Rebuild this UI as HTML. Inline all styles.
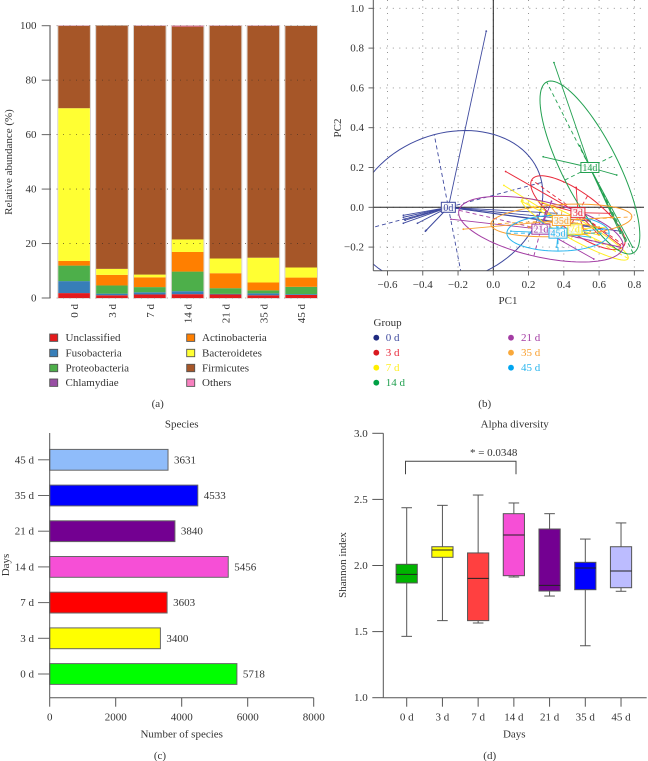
<!DOCTYPE html>
<html lang="en">
<head>
<meta charset="utf-8">
<title>Microbiome panels</title>
<style>
html,body{margin:0;padding:0;background:#fff;width:648px;height:761px;overflow:hidden}
svg{display:block}
text{font-family:"Liberation Serif",serif;font-size:11px;fill:#333}
</style>
</head>
<body>
<svg id="fig" xmlns="http://www.w3.org/2000/svg" width="648" height="761" viewBox="0 0 648 761">
  <defs><clipPath id="biplot-clip"><rect x="373.3" y="0" width="271" height="270.7"/></clipPath></defs>
  <g id="panel-a"></g>
  <g id="panel-b"></g>
  <g id="panel-c"></g>
  <g id="panel-d"></g>

  <text transform="translate(12,162) rotate(-90)" text-anchor="middle">Relative abundance (%)</text>
  <text x="157.7" y="407" text-anchor="middle">(a)</text>
  <text x="508" y="304" text-anchor="middle">PC1</text>
  <text transform="translate(341,128) rotate(-90)" text-anchor="middle">PC2</text>
  <text x="373.5" y="326">Group</text>
  <text x="484.7" y="407" text-anchor="middle">(b)</text>
  <text x="181.7" y="427.5" text-anchor="middle">Species</text>
  <text x="181.7" y="737.5" text-anchor="middle">Number of species</text>
  <text transform="translate(9,565) rotate(-90)" text-anchor="middle">Days</text>
  <text x="160" y="759" text-anchor="middle">(c)</text>
  <text x="514.7" y="427.5" text-anchor="middle">Alpha diversity</text>
  <text x="514.3" y="737.5" text-anchor="middle">Days</text>
  <text transform="translate(346,565) rotate(-90)" text-anchor="middle">Shannon index</text>
  <text x="489.7" y="759" text-anchor="middle">(d)</text>
  <text x="493.7" y="456" text-anchor="middle">* = 0.0348</text>
  <path d="M405.5 474.3V461.3H516V474.3" fill="none" stroke="#444" stroke-width="1"/>
</svg>
<script>
/* ---------- Panel (a) data ---------- */
const stackDays = ['0 d','3 d','7 d','14 d','21 d','35 d','45 d'];
const stackTaxa = ['Unclassified','Fusobacteria','Proteobacteria','Chlamydiae','Actinobacteria','Bacteroidetes','Firmicutes','Others'];
const stackColors = ['#e41a1c','#377eb8','#4daf4a','#984ea3','#ff7f00','#ffff33','#a65628','#f781bf'];
const stackUnclassified = [1.8,1.0,1.3,1.4,1.3,1.0,1.1];
const stackFusobacteria = [4.4,0.6,0.8,1.1,0.2,0.7,0.3];
const stackProteobacteria = [5.7,3.0,1.9,7.2,2.1,1.1,2.7];
const stackChlamydiae = [0,0,0,0,0,0,0];
const stackActinobacteria = [1.7,3.9,3.6,7.2,5.5,2.9,3.4];
const stackBacteroidetes = [56.1,2.2,1.0,4.6,5.4,9.1,3.7];
const stackFirmicutes = [30.2,89.3,91.3,78.2,85.4,85.1,88.7];
const stackOthers = [0.1,0.0,0.1,0.3,0.1,0.1,0.0];
const stackTicks = [0,20,40,60,80,100];

/* ---------- Panel (b) data, in PC units ---------- */
const pcaGroups = ['0d','3d','7d','14d','21d','35d','45d'];
const pcaLegend = ['0 d','3 d','7 d','14 d','21 d','35 d','45 d'];
const pcaCenters = [[-0.255,0.0],[0.48,-0.027],[0.463,-0.11],[0.548,0.2],[0.27,-0.11],[0.386,-0.066],[0.367,-0.13]];
const pcaMajorAxes = [[0.53,0.125],[-0.262,0.165],[-0.302,0.147],[-0.245,0.43],[0.465,-0.095],[0.4,0.018],[0.29,0.0]];
const pcaMinorAxes = [[-0.08,0.365],[0.055,0.085],[0.02,0.05],[0.142,0.063],[0.04,0.135],[0.004,0.08],[0.0,0.09]];
const pcaPoints0 = [[-0.04,0.885],[-0.51,-0.04],[-0.51,-0.05],[-0.505,-0.06],[-0.5,-0.065],[-0.51,-0.08],[-0.43,-0.08],[-0.385,-0.12],[-0.38,-0.115],[0.36,-0.03],[0.55,-0.07],[0.6,-0.1],[0.72,-0.12]];
const pcaPoints3 = [[0.07,0.18],[0.28,0.02],[0.47,0.1],[0.66,-0.03],[0.72,-0.19],[0.6,-0.14],[0.52,-0.13]];
const pcaPoints7 = [[0.06,0.11],[0.16,0.03],[0.3,-0.03],[0.6,-0.14],[0.72,-0.22],[0.55,-0.15],[0.64,-0.1]];
const pcaPoints14 = [[0.344,0.727],[0.283,0.254],[0.7,0.162],[0.49,0.31],[0.75,-0.17],[0.79,-0.2],[0.72,-0.13]];
const pcaPoints21 = [[-0.24,-0.06],[0.57,-0.26],[0.33,0.03],[0.25,-0.04],[0.72,-0.2],[0.4,-0.13],[0.3,-0.02]];
const pcaPoints35 = [[-0.17,-0.11],[0.2,-0.1],[0.33,0.0],[0.45,-0.03],[0.68,-0.05],[0.55,-0.12],[0.6,-0.1]];
const pcaPoints45 = [[0.1,-0.12],[0.25,-0.06],[0.35,-0.05],[0.42,-0.06],[0.62,-0.11],[0.55,-0.15],[0.36,-0.2]];
const pcaColors = ['#3f4a9f','#e8293a','#ffee22','#22a050','#a33ca3','#f9a030','#29b5ee'];
const pcaLegendDots = ['#1f2a80','#d9191f','#ffee00','#00a045','#a33ca3','#f9a83a','#00a5f0'];
const pcaXTicks = [-0.6,-0.4,-0.2,0,0.2,0.4,0.6,0.8];
const pcaYTicks = [-0.2,0,0.2,0.4,0.6,0.8,1.0];

/* ---------- Panel (c) data ---------- */
const speciesDays = ['0 d','3 d','7 d','14 d','21 d','35 d','45 d'];
const speciesCounts = [5718,3400,3603,5456,3840,4533,3631];
const speciesColors = ['#00ff00','#ffff00','#ff0000','#f64fd6','#730091','#0000ff','#8fbcfa'];
const speciesTicks = [0,2000,4000,6000,8000];

/* ---------- Panel (d) data ---------- */
const alphaDays = ['0 d','3 d','7 d','14 d','21 d','35 d','45 d'];
const alphaMin = [1.464,1.583,1.565,1.913,1.769,1.393,1.805];
const alphaQ1 = [1.868,2.062,1.583,1.923,1.807,1.817,1.832];
const alphaMedian = [1.933,2.117,1.903,2.231,1.85,1.981,1.958];
const alphaQ3 = [2.009,2.142,2.095,2.392,2.276,2.024,2.142];
const alphaMax = [2.437,2.455,2.533,2.473,2.392,2.2,2.322];
const alphaColors = ['#00b400','#ffff00','#ff4040','#f64fd6','#730091','#0000ff','#bcbcff'];
const alphaTicks = [1.0,1.5,2.0,2.5,3.0];

const NS = 'http://www.w3.org/2000/svg';
function mk(parent, tag, attrs, txt){
  const e = document.createElementNS(NS, tag);
  for (const k in attrs) e.setAttribute(k, attrs[k]);
  if (txt !== undefined) e.textContent = txt;
  parent.appendChild(e);
  return e;
}
function label(el, name){
  
  
  return el;
}

/* ===== Panel (a) ===== */
(function(){
  const g = document.getElementById('panel-a');
  const sy = v => 298 - v * 2.723;
  const sx = i => 58.3 + i * 37.85;
  const bw = 31.6;
  const series = [stackUnclassified,stackFusobacteria,stackProteobacteria,stackChlamydiae,stackActinobacteria,stackBacteroidetes,stackFirmicutes,stackOthers];
  stackDays.forEach((d,i)=>{
    let base = 0;
    const total = series.reduce((s,a)=>s+a[i],0);
    const outline = mk(g,'rect',{x:sx(i)-0.5,y:sy(total)-0.2,width:bw+1,height:sy(0)-sy(total)+0.4,fill:'none',stroke:'#d8d2cc','stroke-width':1});
    label(outline,'bar-outline-'+i);
    series.forEach((s,k)=>{
      if (s[i] <= 0) return;
      const seg = mk(g,'rect',{x:sx(i),y:sy(base+s[i]),width:bw,height:sy(base)-sy(base+s[i]),fill:stackColors[k]});
      label(seg,'stack-segment');
      base += s[i];
    });
    const tl = mk(g,'text',{transform:'translate('+(sx(i)+bw/2+4)+',304) rotate(-90)','text-anchor':'end'},d);
    label(tl,'x-tick-label');
  });
  const ax = mk(g,'path',{d:'M50 '+sy(100)+'V'+sy(0),stroke:'#666','stroke-width':1.2,fill:'none'});
  label(ax,'y-axis-a');
  stackTicks.forEach(t=>{
    const tk = mk(g,'line',{x1:41.7,x2:50,y1:sy(t),y2:sy(t),stroke:'#666','stroke-width':1});
    label(tk,'y-tick');
    const gl = mk(g,'line',{x1:50,x2:316,y1:sy(t),y2:sy(t),stroke:t===0||t===100?'#8a6a6a':'#3a2a20','stroke-width':0.8,'stroke-dasharray':'1 5.5',opacity:0.75});
    label(gl,'gridline');
    const tx = mk(g,'text',{x:36.5,y:sy(t)+3.5,'text-anchor':'end'},String(t));
    label(tx,'y-tick-label');
  });
  const ly = [337.7,353,368,382.7];
  stackTaxa.forEach((n,i)=>{
    const col = i < 4 ? 0 : 1, row = i % 4;
    const sxx = col ? 186.7 : 49.7, tx = col ? 202 : 65.5;
    const sw = mk(g,'rect',{x:sxx,y:ly[row]-3.7,width:8,height:7.4,fill:stackColors[i],stroke:'#555','stroke-width':0.9});
    label(sw,'legend-swatch');
    const t = mk(g,'text',{x:tx,y:ly[row]+3.5},n);
    label(t,'legend-entry');
  });
})();

/* ===== Panel (b) ===== */
(function(){
  const g = document.getElementById('panel-b');
  const sx = v => 493.3 + v * 176.3;
  const sy = v => 207.3 - v * 199;
  const pts = [pcaPoints0,pcaPoints3,pcaPoints7,pcaPoints14,pcaPoints21,pcaPoints35,pcaPoints45];
  pcaXTicks.forEach(t=>{
    const gl = mk(g,'line',{x1:sx(t),x2:sx(t),y1:0,y2:270.7,stroke:'#888','stroke-width':0.9,'stroke-dasharray':'1 5.5'});
    label(gl,'gridline-x');
    const tk = mk(g,'line',{x1:sx(t),x2:sx(t),y1:270.7,y2:275.5,stroke:'#555','stroke-width':0.9});
    label(tk,'x-tick');
    const tx = mk(g,'text',{x:sx(t),y:288,'text-anchor':'middle'},(t<0?'\u2212':'')+Math.abs(t).toFixed(1));
    label(tx,'x-tick-label');
  });
  pcaYTicks.forEach(t=>{
    const gl = mk(g,'line',{x1:373.3,x2:644,y1:sy(t),y2:sy(t),stroke:'#888','stroke-width':0.9,'stroke-dasharray':'1 5.5'});
    label(gl,'gridline-y');
    const tk = mk(g,'line',{x1:368.5,x2:373.3,y1:sy(t),y2:sy(t),stroke:'#555','stroke-width':0.9});
    label(tk,'y-tick');
    const tx = mk(g,'text',{x:364,y:sy(t)+3.5,'text-anchor':'end'},(t<0?'\u2212':'')+Math.abs(t).toFixed(1));
    label(tx,'y-tick-label');
  });
  const clip = mk(g,'g',{'clip-path':'url(#biplot-clip)'});
  label(clip,'biplot-area');
  const z1 = mk(clip,'line',{x1:373.3,x2:644,y1:sy(0),y2:sy(0),stroke:'#222','stroke-width':1});
  label(z1,'zero-line-horizontal');
  const z2 = mk(clip,'line',{x1:sx(0),x2:sx(0),y1:0,y2:270.7,stroke:'#222','stroke-width':1});
  label(z2,'zero-line-vertical');

  pcaGroups.forEach((name,i)=>{
    const c = pcaCenters[i], a = pcaMajorAxes[i], b = pcaMinorAxes[i], col = pcaColors[i];
    const grp = mk(clip,'g',{fill:'none',stroke:col});
    label(grp,'group-'+name);
    let d = '';
    for (let k = 0; k <= 96; k++){
      const th = k / 96 * 2 * Math.PI, co = Math.cos(th), si = Math.sin(th);
      d += (k ? 'L' : 'M') + sx(c[0] + a[0]*co + b[0]*si).toFixed(2) + ' ' + sy(c[1] + a[1]*co + b[1]*si).toFixed(2);
    }
    const el = mk(grp,'path',{d:d+'Z','stroke-width':1});
    label(el,'ellipse-'+name);
    const maj = mk(grp,'line',{x1:sx(c[0]-a[0]),y1:sy(c[1]-a[1]),x2:sx(c[0]+a[0]),y2:sy(c[1]+a[1]),'stroke-width':0.9,'stroke-dasharray':'4 3'});
    label(maj,'major-axis-'+name);
    const min = mk(grp,'line',{x1:sx(c[0]-b[0]),y1:sy(c[1]-b[1]),x2:sx(c[0]+b[0]),y2:sy(c[1]+b[1]),'stroke-width':0.9,'stroke-dasharray':'4 3'});
    label(min,'minor-axis-'+name);
    pts[i].forEach(p=>{
      const sp = mk(grp,'line',{x1:sx(c[0]),y1:sy(c[1]),x2:sx(p[0]),y2:sy(p[1]),'stroke-width':0.9});
      label(sp,'spoke-'+name);
      const dot = mk(grp,'circle',{cx:sx(p[0]),cy:sy(p[1]),r:0.9,fill:col,stroke:'none'});
      label(dot,'point-'+name);
    });
  });
  pcaGroups.forEach((name,i)=>{
    const c = pcaCenters[i], col = pcaColors[i];
    const w = name.length > 2 ? 18 : 14;
    const bx = mk(clip,'rect',{x:sx(c[0])-w/2,y:sy(c[1])-5,width:w,height:10,fill:'#fff','fill-opacity':0.85,stroke:col,'stroke-width':1});
    label(bx,'group-label-box');
    const tx = mk(clip,'text',{x:sx(c[0]),y:sy(c[1])+3.5,'text-anchor':'middle',style:'font-size:10px;fill:'+col},name);
    label(tx,'group-label');
  });
  const left = mk(g,'line',{x1:373.3,x2:373.3,y1:0,y2:270.7,stroke:'#555','stroke-width':1});
  label(left,'y-axis-b');
  const bottom = mk(g,'line',{x1:373.3,x2:644,y1:270.7,y2:270.7,stroke:'#555','stroke-width':1});
  label(bottom,'x-axis-b');
  const ly = [337.7,352.7,367.7,382.7];
  pcaLegend.forEach((n,i)=>{
    const col = i < 4 ? 0 : 1, row = i < 4 ? i : i - 4;
    const dot = mk(g,'circle',{cx:col?511:376.3,cy:ly[row],r:2.9,fill:pcaLegendDots[i]});
    label(dot,'legend-dot');
    const t = mk(g,'text',{x:col?521:385.7,y:ly[row]+3.5,style:'fill:'+pcaColors[i]},n);
    label(t,'legend-entry');
  });
})();

/* ===== Panel (c) ===== */
(function(){
  const g = document.getElementById('panel-c');
  const sx = v => 49.7 + v * 0.033;
  const sy = i => 674 - i * 35.7;
  speciesDays.forEach((d,i)=>{
    const y = sy(i);
    const r = mk(g,'rect',{x:sx(0),y:y-10.4,width:sx(speciesCounts[i])-sx(0)-1.5,height:20.8,fill:speciesColors[i],stroke:'#666','stroke-width':1});
    label(r,'bar-'+d.replace(' ',''));
    const tk = mk(g,'line',{x1:38,x2:49.7,y1:y,y2:y,stroke:'#666','stroke-width':1});
    label(tk,'y-tick');
    const tl = mk(g,'text',{x:34,y:y+3.5,'text-anchor':'end'},d);
    label(tl,'y-tick-label');
    const vl = mk(g,'text',{x:sx(speciesCounts[i])+4.5,y:y+3.5},String(speciesCounts[i]));
    label(vl,'bar-value');
  });
  const ya = mk(g,'line',{x1:49.7,x2:49.7,y1:433,y2:697.7,stroke:'#555','stroke-width':1});
  label(ya,'y-axis-c');
  const xa = mk(g,'line',{x1:49.7,x2:sx(8000),y1:697.7,y2:697.7,stroke:'#555','stroke-width':1});
  label(xa,'x-axis-c');
  speciesTicks.forEach(t=>{
    const tk = mk(g,'line',{x1:sx(t),x2:sx(t),y1:697.7,y2:706.7,stroke:'#555','stroke-width':1});
    label(tk,'x-tick');
    const tx = mk(g,'text',{x:sx(t),y:720.5,'text-anchor':'middle'},String(t));
    label(tx,'x-tick-label');
  });
})();

/* ===== Panel (d) ===== */
(function(){
  const g = document.getElementById('panel-d');
  const sx = i => 406.7 + i * 35.72;
  const sy = v => 697.7 - (v - 1) * 132.2;
  const ya = mk(g,'line',{x1:383.3,x2:383.3,y1:sy(3),y2:sy(1),stroke:'#555','stroke-width':1});
  label(ya,'y-axis-d');
  const xa = mk(g,'line',{x1:383.3,x2:646.7,y1:sy(1),y2:sy(1),stroke:'#555','stroke-width':1});
  label(xa,'x-axis-d');
  alphaTicks.forEach(t=>{
    const tk = mk(g,'line',{x1:372.3,x2:383.3,y1:sy(t),y2:sy(t),stroke:'#555','stroke-width':1});
    label(tk,'y-tick');
    const tx = mk(g,'text',{x:367.7,y:sy(t)+3.5,'text-anchor':'end'},t.toFixed(1));
    label(tx,'y-tick-label');
  });
  alphaDays.forEach((d,i)=>{
    const x = sx(i), hw = 10.6;
    const tk = mk(g,'line',{x1:x,x2:x,y1:sy(1),y2:706.7,stroke:'#555','stroke-width':1});
    label(tk,'x-tick');
    const tx = mk(g,'text',{x:x,y:720.5,'text-anchor':'middle'},d);
    label(tx,'x-tick-label');
    const wh = mk(g,'line',{x1:x,x2:x,y1:sy(alphaMax[i]),y2:sy(alphaMin[i]),stroke:'#555','stroke-width':1});
    label(wh,'whisker');
    const c1 = mk(g,'line',{x1:x-5.3,x2:x+5.3,y1:sy(alphaMax[i]),y2:sy(alphaMax[i]),stroke:'#555','stroke-width':1});
    label(c1,'whisker-cap');
    const c2 = mk(g,'line',{x1:x-5.3,x2:x+5.3,y1:sy(alphaMin[i]),y2:sy(alphaMin[i]),stroke:'#555','stroke-width':1});
    label(c2,'whisker-cap');
    const b = mk(g,'rect',{x:x-hw,y:sy(alphaQ3[i]),width:2*hw,height:sy(alphaQ1[i])-sy(alphaQ3[i]),fill:alphaColors[i],stroke:'#555','stroke-width':1});
    label(b,'box-'+d.replace(' ',''));
    const m = mk(g,'line',{x1:x-hw,x2:x+hw,y1:sy(alphaMedian[i]),y2:sy(alphaMedian[i]),stroke:'#222','stroke-width':1});
    label(m,'median-line');
  });
})();
</script>
</body>
</html>
